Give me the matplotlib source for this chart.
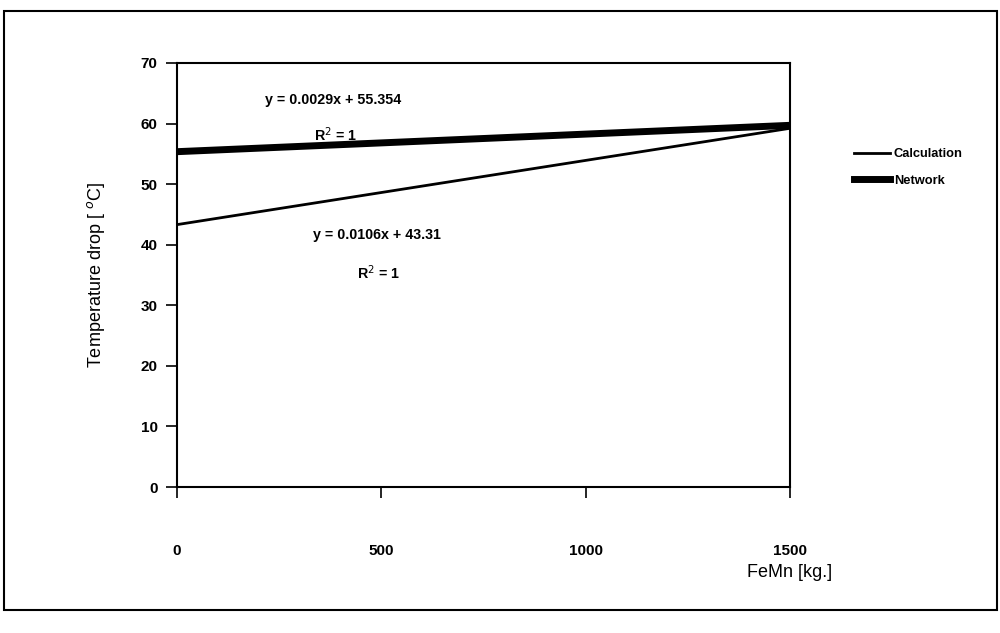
import matplotlib.pyplot as plt
from matplotlib.patches import Rectangle

plt.rcParams['font.family'] = ['Liberation Sans', 'DejaVu Sans']

feMn = [0, 500, 1000, 1500]
calc = [43.31, 48.61, 53.91, 59.21]
network = [55.35, 56.80, 58.25, 59.70]
xticks = [0, 500, 1000, 1500]
yticks = [0, 10, 20, 30, 40, 50, 60, 70]

fig = plt.figure(figsize=(10, 6.33), dpi=100)
fig.patches.append(Rectangle((0.004, 0.037), 0.993, 0.945, transform=fig.transFigure,
                             fill=False, edgecolor='black', linewidth=1.5))
ax = fig.add_axes([0.177, 0.2306, 0.613, 0.670])

ax.plot(feMn, calc, color='black', linewidth=2, label='Calculation')
ax.plot(feMn, network, color='black', linewidth=5, label='Network')

ax.set_xlim(0, 1500)
ax.set_ylim(0, 70)
ax.set_xticks(xticks)
ax.set_yticks(yticks)
ax.tick_params(axis='x', direction='out', length=8, width=1.2, pad=33, labelsize=11)
ax.tick_params(axis='y', direction='out', length=8, width=1.2, pad=6, labelsize=11)
for lbl in ax.get_xticklabels() + ax.get_yticklabels():
    lbl.set_fontweight('bold')
for s in ax.spines.values():
    s.set_linewidth(1.5)

ax.set_ylabel('Temperature drop [ $^{o}$C]', fontsize=13, labelpad=24)
ax.set_xlabel('FeMn [kg.]', fontsize=13)
ax.xaxis.set_label_coords(1.0, -0.182)

kw = dict(transform=ax.transAxes, fontsize=10.3, ha='center', va='center', fontweight='bold')
ax.text(0.254, 0.913, 'y = 0.0029x + 55.354', **kw)
ax.text(0.258, 0.830, 'R$^{2}$ = 1', **kw)
ax.text(0.326, 0.594, 'y = 0.0106x + 43.31', **kw)
ax.text(0.328, 0.505, 'R$^{2}$ = 1', **kw)

ax.legend(loc='upper left', bbox_to_anchor=(1.085, 0.826), frameon=False,
          prop={'size': 9.3, 'weight': 'bold'},
          handlelength=2.8, handletextpad=0.3, labelspacing=1.1)

fig.savefig('out.png', dpi=100)
